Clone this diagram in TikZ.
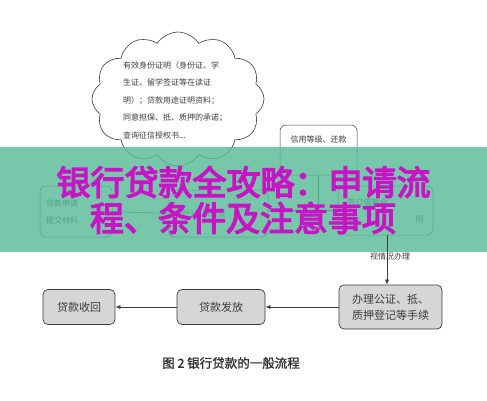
\documentclass[tikz,border=0pt]{standalone}
\usepackage{fontspec}
\setmainfont{Noto Sans CJK SC}
\newfontfamily\titlefont[FakeBold=4]{Noto Sans CJK SC}
\newfontfamily\capfont[FakeBold=1.2]{Noto Sans CJK SC}
\usetikzlibrary{shapes.symbols,arrows.meta}
\definecolor{banner}{RGB}{86,187,151}
\definecolor{titlec}{RGB}{200,20,196}
\definecolor{boxfill}{RGB}{214,214,214}
\definecolor{ink}{RGB}{60,60,60}
\tikzset{
  flowbox/.style={draw=ink, fill=boxfill, rounded corners=5pt, line width=0.7pt,
    font=\fontsize{11}{16}\selectfont, text=ink, align=center, inner sep=0pt},
  hidbox/.style={draw=ink, rounded corners=6pt, line width=0.5pt,
    font=\fontsize{8}{17}\selectfont, text=ink, align=left, inner sep=0pt},
  conn/.style={draw=ink, line width=0.6pt, -{Latex[length=5pt,width=4pt]}},
  plain/.style={draw=ink, line width=0.5pt},
  smalltext/.style={font=\fontsize{8}{10}\selectfont, text=ink},
  titletext/.style={font=\titlefont\fontsize{34}{36}\selectfont, text=titlec, inner sep=0pt}
}
\begin{document}
\begin{tikzpicture}[x=1pt,y=-1pt]
\useasboundingbox (0,0) rectangle (487,400);
\fill[white] (0,0) rectangle (487,400);

% cloud
\node[cloud, cloud puffs=12, cloud puff arc=115, aspect=1.3, shape border rotate=15,
      draw=ink, line width=0.6pt,
      fill=white, minimum width=172pt, minimum height=134pt, inner sep=0pt] (cl) at (178,99) {};
\node[font=\fontsize{8}{17.5}\selectfont, text=ink, align=left, inner sep=0pt] (cltext) at (175,100)
  {有效身份证明（身份证、学\\生证、留学签证等在读证\\明）；贷款用途证明资料；\\同意担保、抵、质押的承诺；\\查询征信授权书...};

% credit box
\node[hidbox, minimum width=77pt, minimum height=50pt] (credit) at (318.5,150) {};
\node[smalltext, inner sep=0pt] (credittext) at (318.5,139) {信用等级、还款};

% hidden boxes behind the banner
\node[hidbox, minimum width=72pt, minimum height=51pt, text width=60pt] (hl) at (76,211.5) {贷款申请\\提交材料};
\node[hidbox, minimum width=100pt, minimum height=47pt, text width=80pt] (hm) at (218,213.5) {银行审核调查\\};
\node[hidbox, minimum width=95pt, minimum height=49pt, text width=76pt] (hr) at (385.5,210.5) {签订借款合\\\hfill 同};
\draw[conn] (hl.east) -- (hm.west);
\draw[conn] (hm.east |- hr.west) -- (hr.west);
\draw[plain] (credit.south) -- (credit.south |- hr.west);

% banner
\fill[banner, opacity=0.8] (0,147) rectangle (487,252);
\node[titletext] (t1) at (243.5,182) {银行贷款全攻略：申请流};
\node[titletext] (t2) at (243,218) {程、条件及注意事项};

% bottom flow
\node[flowbox, minimum width=72pt, minimum height=35pt] (back) at (79,307) {贷款收回};
\node[flowbox, minimum width=88pt, minimum height=35pt] (issue) at (221,307) {贷款发放};
\node[flowbox, minimum width=103pt, minimum height=44pt] (notary) at (390.5,307) {办理公证、抵、\\质押登记等手续};
\coordinate (vtop) at (387,235);
\draw[conn] (vtop) -- (vtop |- notary.north);
\node[smalltext, inner sep=0pt] (cond) at (390,256) {视情况办理};
\draw[conn] (notary.west) -- (issue.east);
\draw[conn] (issue.west) -- (back.east);

% caption
\node[font=\capfont\fontsize{12.5}{14}\selectfont, text=ink!80!black, inner sep=0pt] (cap) at (231,363) {图 2 银行贷款的一般流程};
\end{tikzpicture}
\end{document}
